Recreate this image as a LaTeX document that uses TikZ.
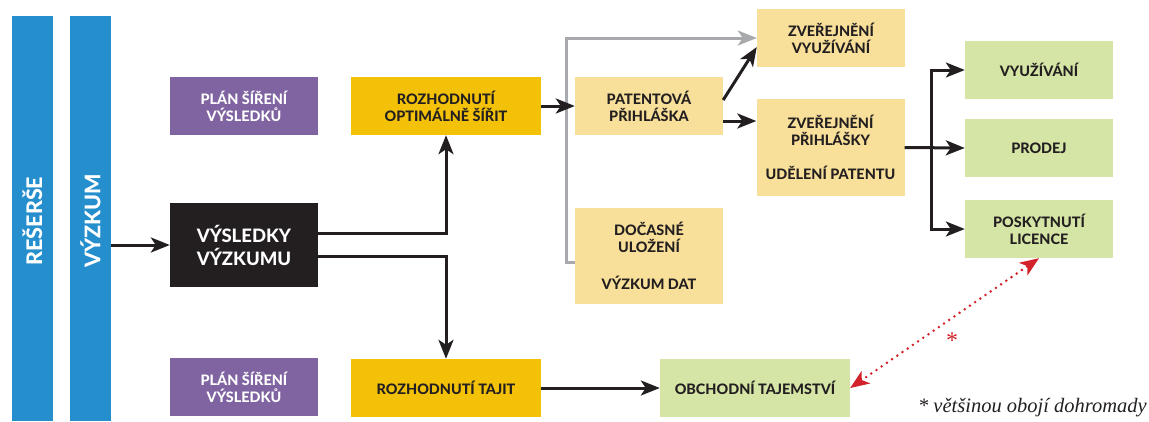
\documentclass[tikz,border=0pt]{standalone}
\usepackage{fontspec}
\setmainfont{Lato}[BoldFont={Lato Heavy}]
\newfontfamily\notefont{Liberation Serif}
\usetikzlibrary{arrows.meta}
\definecolor{cblue}{HTML}{258FCE}
\definecolor{cpurple}{HTML}{8064A2}
\definecolor{cblack}{HTML}{231F20}
\definecolor{cgold}{HTML}{F2C108}
\definecolor{clight}{HTML}{F9E09A}
\definecolor{cgreen}{HTML}{D5E5A6}
\definecolor{cgray}{HTML}{A7A9AC}
\definecolor{cred}{HTML}{D2232A}
\tikzset{
  box/.style={rectangle, inner sep=0pt, align=center, text=cblack,
    font=\fontsize{14.4}{17}\selectfont\bfseries},
  w148/.style={minimum width=148pt},
  w190/.style={minimum width=190pt},
  h58/.style={minimum height=58pt},
  purplebox/.style={box, w148, h58, fill=cpurple, text=white},
  goldbox/.style={box, w190, h58, fill=cgold},
  lightbox/.style={box, w148, fill=clight},
  greenbox/.style={box, fill=cgreen},
  bar/.style={rectangle, inner sep=0pt, fill=cblue, minimum width=41pt, minimum height=405pt},
  bartext/.style={rotate=90, text=white, font=\fontsize{21.5}{24}\selectfont\bfseries},
  arr/.style={line width=3pt, draw=cblack, -{Stealth[length=19pt,width=15pt,inset=5pt]}},
  grayarr/.style={line width=3pt, draw=cgray, -{Stealth[length=19pt,width=15pt,inset=5pt]}},
  reddot/.style={line width=2.8pt, draw=cred, line cap=round, dash pattern=on 0pt off 6.3pt,
    {Stealth[length=19pt,width=15pt,inset=5pt,line cap=butt]}-{Stealth[length=19pt,width=15pt,inset=5pt,line cap=butt]}},
}
\begin{document}
\begin{tikzpicture}[x=1pt,y=-1pt]
\useasboundingbox (0,0) rectangle (1149,421);
% bars
\node[bar] (res) at (32.5,218.5) {};
\node[bartext] (restext) at (32.5,221) {REŠERŠE};
\node[bar] (vyz) at (90.5,218.5) {};
\node[bartext] (vyztext) at (90.5,221) {VÝZKUM};
% left column
\node[purplebox] (plan1) at (244,106) {PLÁN ŠÍŘENÍ\\VÝSLEDKŮ};
\node[box, w148, minimum height=84pt, fill=cblack, text=white,
  font=\fontsize{18.5}{23}\selectfont\bfseries] (vysl) at (244,245) {VÝSLEDKY\\VÝZKUMU};
\node[purplebox] (plan2) at (244,387) {PLÁN ŠÍŘENÍ\\VÝSLEDKŮ};
% decisions
\node[goldbox] (rozopt) at (446,106) {ROZHODNUTÍ\\OPTIMÁLNĚ ŠÍŘIT};
\node[goldbox] (roztaj) at (446,388) {ROZHODNUTÍ TAJIT};
% light boxes
\node[lightbox, h58] (pat) at (649,106) {PATENTOVÁ\\PŘIHLÁŠKA};
\node[lightbox, minimum height=96pt] (doc) at (649,256) {DOČASNÉ\\ULOŽENÍ\\[20pt]VÝZKUM DAT};
\node[lightbox, h58] (zvvy) at (831,38) {ZVEŘEJNĚNÍ\\VYUŽÍVÁNÍ};
\node[lightbox, minimum height=97pt] (zvpr) at (830.5,147.5) {ZVEŘEJNĚNÍ\\PŘIHLÁŠKY\\[17pt]UDĚLENÍ PATENTU};
% green boxes
\node[greenbox, w148, h58] (vyu) at (1039,70) {VYUŽÍVÁNÍ};
\node[greenbox, w148, h58] (prod) at (1039,148) {PRODEJ};
\node[greenbox, w148, h58] (lic) at (1039,229) {POSKYTNUTÍ\\LICENCE};
\node[greenbox, w190, h58] (obch) at (755,388) {OBCHODNÍ TAJEMSTVÍ};
% connectors
\draw[grayarr] ([yshift=-6pt]doc.west) -- ++(-8,0) |- (zvvy.west);
\draw[arr] (vyz.east |- vysl.west) -- (vysl.west);
\draw[arr] ([yshift=12pt]vysl.east) -| (rozopt.south);
\draw[arr] ([yshift=-11pt]vysl.east) -| (roztaj.north);
\draw[arr] (rozopt.east) -- (pat.west);
\draw[arr] ([yshift=6pt]pat.east) -- ([yshift=-9pt]zvvy.west);
\draw[arr] ([yshift=-15pt]pat.east) -- ([yshift=-15pt]pat.east -| zvpr.west);
\coordinate (fk) at (931,148);
\draw[arr] (zvpr.east) -- (prod.west);
\draw[arr] (fk) |- (vyu.west);
\draw[arr] (fk) |- (lic.west);
\draw[arr] (roztaj.east) -- (obch.west);
\draw[reddot] (obch.east) -- (lic.south);
\node[text=cred, font=\notefont\fontsize{24}{26}\selectfont] (ast) at (952,341) {*};
\node[anchor=east, inner sep=0pt, text=cblack, font=\notefont\itshape\fontsize{20.5}{22}\selectfont] (note) at (1147,408) {* většinou obojí dohromady};
\end{tikzpicture}
\end{document}
